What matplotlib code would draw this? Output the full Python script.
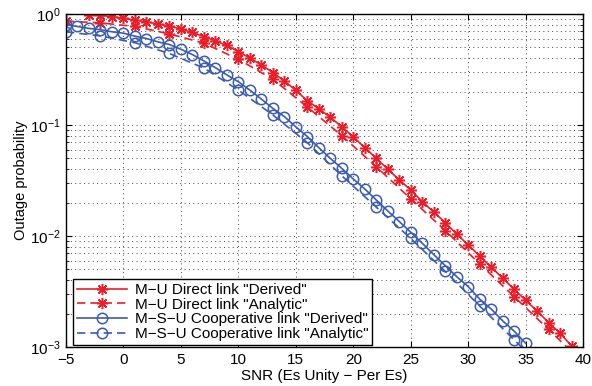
import numpy as np
import matplotlib.pyplot as plt
from matplotlib.ticker import LogLocator, NullFormatter

plt.rcParams['font.family'] = ['Liberation Sans', 'DejaVu Sans']
plt.rcParams['mathtext.fontset'] = 'custom'
plt.rcParams['mathtext.rm'] = 'Liberation Sans'
plt.rcParams['mathtext.it'] = 'Liberation Sans'
plt.rcParams['font.size'] = 11

# SNR grids (dB)
snr_direct = list(range(-5, 41))
snr_coop = list(range(-5, 36))
snr_analytic = list(range(-5, 41, 3))

# M-U direct link, derived
pout_direct_derived = [1.2, 1.1, 0.98, 0.97, 0.945, 0.915, 0.88, 0.85, 0.81, 0.78,
                       0.73, 0.68, 0.625, 0.57, 0.52, 0.457, 0.40, 0.347, 0.296, 0.249,
                       0.205, 0.165, 0.140, 0.117, 0.0966, 0.078, 0.0624, 0.050, 0.040, 0.032,
                       0.026, 0.0204, 0.0164, 0.0132, 0.0104, 0.0083, 0.0066, 0.00525, 0.00417, 0.00331,
                       0.00263, 0.00211, 0.00166, 0.00133, 0.00102, 0.00081]
# M-U direct link, analytic
pout_direct_analytic = [0.86, 0.83, 0.77, 0.66, 0.545, 0.39, 0.258, 0.145, 0.080, 0.042,
                        0.0216, 0.0112, 0.0056, 0.00284, 0.00144, 0.00072]
# M-S-U cooperative link, derived
pout_coop_derived = [0.80, 0.77, 0.74, 0.72, 0.69, 0.67, 0.63, 0.60, 0.56, 0.53,
                     0.48, 0.43, 0.377, 0.328, 0.282, 0.245, 0.206, 0.171, 0.141, 0.119,
                     0.096, 0.0785, 0.0624, 0.050, 0.0406, 0.0326, 0.0265, 0.0211, 0.0168, 0.0135,
                     0.0108, 0.0086, 0.0068, 0.0054, 0.0043, 0.0035, 0.0027, 0.0022, 0.00172, 0.00139,
                     0.00108]
# M-S-U cooperative link, analytic
pout_coop_analytic = [0.69, 0.633, 0.55, 0.44, 0.325, 0.206, 0.123, 0.0692, 0.0348, 0.0182,
                      0.0095, 0.0048, 0.00234, 0.00116, 0.00057, 0.00028]

red = '#ec1c28'
blue = '#3a5bb0'
star = (8, 2, 0)

fig = plt.figure(figsize=(5.92, 3.86), dpi=100)
ax = fig.add_axes([0.1115, 0.101, 0.8735, 0.863])

ax.semilogy(snr_direct, pout_direct_derived, '-', color=red, marker=star, ms=8, mew=1.1, lw=1.2,
            label='M\u2212U Direct link "Derived"')
ax.semilogy(snr_analytic, pout_direct_analytic, color=red, ls=(0, (5, 3)), marker=star, ms=8, mew=1.1, lw=1.2,
            label='M\u2212U Direct link "Analytic"')
ax.semilogy(snr_coop, pout_coop_derived, '-', color=blue, marker='o', ms=7.5, mfc='none', mew=1.1, lw=1.2,
            label='M\u2212S\u2212U Cooperative link "Derived"')
ax.semilogy(snr_analytic, pout_coop_analytic, color=blue, ls=(0, (5, 3)), marker='o', ms=7.5, mfc='none',
            mew=1.1, lw=1.2, label='M\u2212S\u2212U Cooperative link "Analytic"')

ax.set_xlim(-5, 40)
ax.set_ylim(1e-3, 1)
ax.set_xticks(range(-5, 41, 5))
ax.yaxis.set_major_locator(LogLocator(base=10, numticks=10))
ax.yaxis.set_minor_locator(LogLocator(base=10, subs=np.arange(2, 10), numticks=10))
ax.yaxis.set_minor_formatter(NullFormatter())

ax.tick_params(which='both', direction='in', top=True, right=True)
ax.tick_params(which='major', length=4, pad=4)
ax.tick_params(which='minor', length=2)
ax.grid(True, which='major', axis='both', ls=(0, (1, 3.5)), color='#444444', lw=0.7)
ax.grid(True, which='minor', axis='y', ls=(0, (1, 3.5)), color='#444444', lw=0.7)
for sp in ax.spines.values():
    sp.set_linewidth(1.0)

ax.set_xlabel('SNR (Es Unity \u2212 Per Es)', labelpad=2)
ax.set_ylabel('Outage probability', fontsize=10.5, labelpad=1)

leg = ax.legend(loc='lower left', bbox_to_anchor=(0.0135, 0.006), fontsize=11, handlelength=3.3,
                numpoints=1, fancybox=False, framealpha=1, edgecolor='black', borderpad=0.25,
                labelspacing=0.05, handletextpad=0.5, borderaxespad=0)
leg.get_frame().set_linewidth(1.0)

fig.savefig('out.png', dpi=100)
